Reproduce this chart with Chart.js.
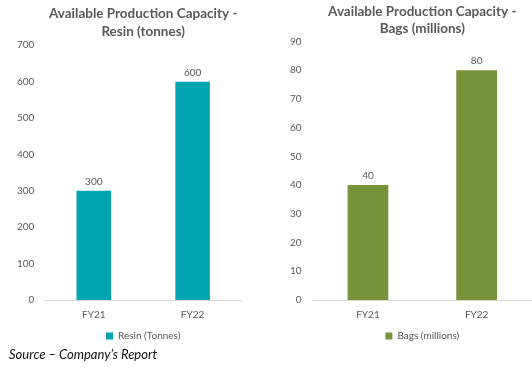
<!DOCTYPE html>
<html>
<head>
<meta charset="utf-8">
<script src="https://cdn.jsdelivr.net/npm/chart.js@4/dist/chart.umd.min.js"></script>
<style>
  body { margin: 0; background: #fff; width: 532px; height: 368px; position: relative; overflow: hidden; }
  .box { position: absolute; top: 0; height: 355px; }
  #left { left: 0; width: 258px; }
  #right { left: 270px; width: 262px; }
  #src { position: absolute; left: 9px; top: 346px; font: italic 13px Lato, sans-serif; color: #111; }
</style>
</head>
<body>
<div class="box" id="left"><canvas id="c1"></canvas></div>
<div class="box" id="right"><canvas id="c2"></canvas></div>
<div id="src">Source – Company’s Report</div>
<script>
// donnees
const years = ['FY21', 'FY22'];
const resin = [300, 600];
const bags = [40, 80];

const grey = '#595959';
const fontFam = 'Lato, sans-serif';

// petites etiquettes au-dessus des barres
const valueLabels = {
  id: 'valueLabels',
  afterDatasetsDraw(chart) {
    const ctx = chart.ctx;
    ctx.save();
    ctx.font = '10px ' + fontFam;
    ctx.fillStyle = grey;
    ctx.textAlign = 'center';
    ctx.textBaseline = 'bottom';
    chart.getDatasetMeta(0).data.forEach((bar, i) => {
      ctx.fillText(chart.data.datasets[0].data[i], bar.x, bar.y - 4);
    });
    ctx.restore();
  }
};

function makeChart(id, cfg) {
  return new Chart(document.getElementById(id), {
    type: 'bar',
    data: {
      labels: years,
      datasets: [{ label: cfg.label, data: cfg.data, backgroundColor: cfg.color, barPercentage: cfg.barPct, categoryPercentage: 1 }]
    },
    options: {
      responsive: true,
      maintainAspectRatio: false,
      animation: false,
      layout: { padding: cfg.pad },
      plugins: {
        title: {
          display: true,
          fullSize: false,
          text: cfg.title,
          color: grey,
          font: { family: fontFam, size: 13.5, weight: 'bold', lineHeight: cfg.titleLH },
          padding: cfg.titlePad
        },
        legend: {
          position: 'bottom',
          fullSize: false,
          labels: { boxWidth: 7, boxHeight: 7, color: grey, font: { family: fontFam, size: 10 }, padding: 1 }
        },
        tooltip: { enabled: false }
      },
      scales: {
        x: {
          grid: { display: false, drawTicks: false },
          border: { color: '#d9d9d9' },
          ticks: { color: grey, font: { family: fontFam, size: 10, lineHeight: 1 }, padding: 10 }
        },
        y: {
          min: 0,
          max: cfg.max,
          grid: { display: false, drawTicks: false },
          border: { display: false },
          ticks: { stepSize: cfg.step, color: grey, font: { family: fontFam, size: 10 }, padding: cfg.tickPad }
        }
      }
    },
    plugins: [valueLabels]
  });
}

makeChart('c1', {
  title: ['Available Production Capacity -', 'Resin (tonnes)'], label: 'Resin (Tonnes)',
  data: resin, color: '#00A5AF', max: 700, step: 100, barPct: 0.35,
  pad: { left: 7, right: 16, bottom: 4 }, tickPad: 10,
  titleLH: 1.38, titlePad: { top: 4, bottom: 4 }
});
makeChart('c2', {
  title: ['Available Production Capacity -', 'Bags (millions)'], label: 'Bags (millions)',
  data: bags, color: '#77933C', max: 90, step: 10, barPct: 0.375,
  pad: { left: 8, right: 1, bottom: 4 }, tickPad: 12,
  titleLH: 1.2, titlePad: { top: 4, bottom: 5 }
});
</script>
</body>
</html>
